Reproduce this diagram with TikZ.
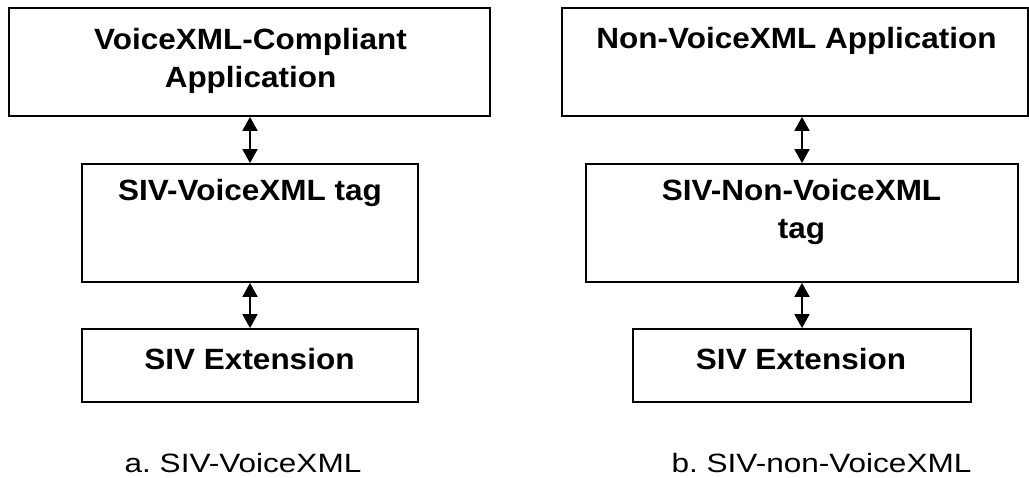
\documentclass[tikz,border=0pt]{standalone}
\usepackage{fontspec}
\setmainfont{Liberation Sans}
\newfontfamily\lblfont[FakeStretch=1.075]{Liberation Sans}
\newfontfamily\capfont[FakeStretch=1.19]{Liberation Sans}
\usetikzlibrary{arrows.meta}
\frenchspacing
\begin{document}
\begin{tikzpicture}[x=1pt,y=-1pt,
  box/.style={draw=black, line width=1.8pt, rectangle, inner sep=0pt},
  lbl/.style={font=\lblfont\fontsize{29.3}{38}\selectfont\bfseries, align=center, inner sep=0pt, anchor=base},
  captiontext/.style={font=\capfont\fontsize{26.5}{32}\selectfont, inner sep=0pt, anchor=base},
  link/.style={line width=1.8pt, {Triangle[width=15pt,length=14pt]}-{Triangle[width=15pt,length=14pt]}}]
\useasboundingbox (0,0) rectangle (1029,477);
% left column
\node[box, minimum width=481pt, minimum height=108pt] (a1) at (249.5,62) {};
\node[box, minimum width=336pt, minimum height=118pt] (a2) at (250,223) {};
\node[box, minimum width=336pt, minimum height=73pt] (a3) at (250,365.5) {};
\node[lbl] (ta1) at (250.5,87.3) {VoiceXML-Compliant\\Application};
\node[lbl] (ta2) at (250,200) {SIV-VoiceXML tag};
\node[lbl] (ta3) at (249.5,369.5) {SIV Extension};
\node[captiontext] (capa) at (243,472.3) {a. SIV-VoiceXML};
\draw[link] (a1.south -| a2.north) -- (a2.north);
\draw[link] (a2.south) -- (a3.north);
% right column
\node[box, minimum width=466pt, minimum height=108pt] (b1) at (795,62) {};
\node[box, minimum width=432pt, minimum height=118pt] (b2) at (802,223) {};
\node[box, minimum width=338pt, minimum height=73pt] (b3) at (802,365.5) {};
\node[lbl] (tb1) at (796.5,48.3) {Non-VoiceXML Application};
\node[lbl] (tb2) at (801.5,238) {SIV-Non-VoiceXML\\tag};
\node[lbl] (tb3) at (801,369.5) {SIV Extension};
\node[captiontext] (capb) at (821.5,472.3) {b. SIV-non-VoiceXML};
\draw[link] (b1.south -| b2.north) -- (b2.north);
\draw[link] (b2.south) -- (b3.north);
\end{tikzpicture}
\end{document}
